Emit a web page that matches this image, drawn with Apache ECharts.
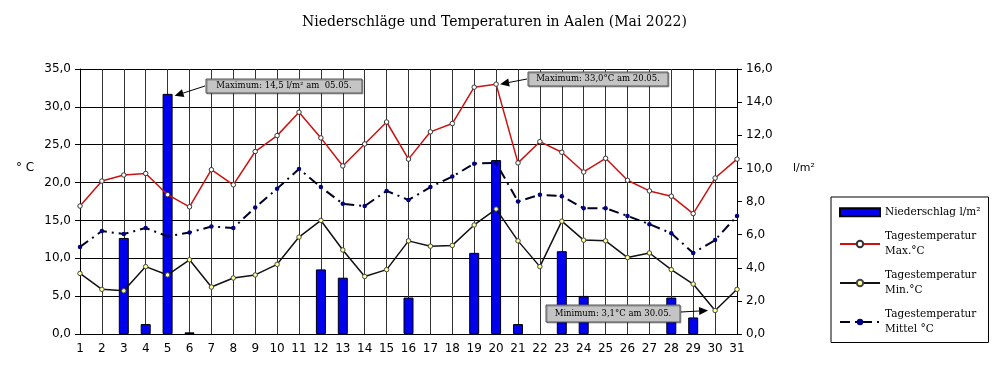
<!DOCTYPE html>
<html>
<head>
<meta charset="utf-8">
<script src="https://cdn.jsdelivr.net/npm/echarts@6/dist/echarts.min.js"></script>
<style>
  html, body { margin: 0; padding: 0; background: #fff; }
  #chart { width: 1000px; height: 376px; }
</style>
</head>
<body>
<div id="chart"></div>
<script>
// Tage im Mai 2022
const days = ['1','2','3','4','5','6','7','8','9','10','11','12','13','14','15','16',
  '17','18','19','20','21','22','23','24','25','26','27','28','29','30','31'];
// Niederschlag l/m²
const rain = [0, 0, 5.8, 0.6, 14.5, 0.1, 0, 0, 0, 0, 0, 3.9, 3.4, 0, 0, 2.2,
  0, 0, 4.9, 10.5, 0.6, 0, 5.0, 2.3, 0, 0, 0, 2.2, 1.0, 0, 0];
// Tagestemperatur Max. °C
const tMax = [16.9, 20.2, 21.0, 21.2, 18.4, 16.8, 21.7, 19.7, 24.1, 26.2, 29.3, 25.9, 22.2, 25.1, 28.0, 23.1,
  26.7, 27.8, 32.6, 33.0, 22.6, 25.4, 24.0, 21.4, 23.2, 20.3, 18.9, 18.2, 15.9, 20.6, 23.1];
// Tagestemperatur Min. °C
const tMin = [8.0, 5.9, 5.7, 8.9, 7.8, 9.8, 6.2, 7.4, 7.8, 9.2, 12.8, 15.0, 11.1, 7.6, 8.5, 12.3,
  11.6, 11.7, 14.4, 16.5, 12.3, 8.9, 14.9, 12.4, 12.3, 10.1, 10.7, 8.5, 6.6, 3.1, 5.9];
// Tagestemperatur Mittel °C
const tMean = [11.5, 13.6, 13.2, 14.0, 12.9, 13.4, 14.2, 14.0, 16.7, 19.2, 21.8, 19.4, 17.2, 16.9, 18.9, 17.7,
  19.4, 20.8, 22.5, 22.6, 17.5, 18.4, 18.2, 16.6, 16.6, 15.6, 14.5, 13.3, 10.7, 12.4, 15.6];

const chart = echarts.init(document.getElementById('chart'));
const serif = 'DejaVu Serif';
const sans = 'DejaVu Sans';
const comma = v => v.toFixed(1).replace('.', ',');

const option = {
  animation: false,
  title: {
    text: 'Niederschläge und Temperaturen in Aalen (Mai 2022)',
    left: 297, top: 10,
    textStyle: { fontFamily: serif, fontSize: 14, fontWeight: 'normal', color: '#000' }
  },
  grid: { left: 80, right: 263, top: 69, bottom: 42 },
  legend: {
    orient: 'vertical',
    left: 831, top: 197,
    padding: [8, 8, 6, 8],
    itemWidth: 40, itemHeight: 8, itemGap: 10,
    borderColor: '#000', borderWidth: 1,
    textStyle: { fontFamily: serif, fontSize: 10.5, color: '#000', lineHeight: 14.5 },
    data: [
      { name: 'Niederschlag l/m²', icon: 'rect' },
      'Tagestemperatur\nMax.°C',
      'Tagestemperatur\nMin.°C',
      'Tagestemperatur\nMittel °C'
    ]
  },
  xAxis: {
    type: 'category',
    data: days,
    boundaryGap: false,
    axisLine: { lineStyle: { color: '#000', width: 1 } },
    axisTick: { show: false },
    axisLabel: { fontFamily: sans, fontSize: 12, color: '#000', margin: 9 },
    splitLine: { show: true, lineStyle: { color: '#333', width: 1 } }
  },
  yAxis: [
    {
      type: 'value', min: 0, max: 35, interval: 5,
      axisLine: { show: true, lineStyle: { color: '#000' } },
      axisTick: { show: true, length: 5, lineStyle: { color: '#000' } },
      axisLabel: { fontFamily: sans, fontSize: 12, color: '#000', margin: 9, formatter: comma },
      splitLine: { show: true, lineStyle: { color: '#000', width: 1 } }
    },
    {
      type: 'value', min: 0, max: 16, interval: 2,
      axisLine: { show: true, lineStyle: { color: '#000' } },
      axisTick: { show: true, length: 5, lineStyle: { color: '#000' } },
      axisLabel: { fontFamily: sans, fontSize: 12, color: '#000', margin: 9, formatter: comma },
      splitLine: { show: false }
    }
  ],
  series: [
    {
      name: 'Niederschlag l/m²',
      type: 'bar',
      yAxisIndex: 1,
      barWidth: 10,
      itemStyle: { color: '#0000ee', borderColor: '#000', borderWidth: 1 },
      // Tage ohne Niederschlag nicht zeichnen
      data: rain.map(v => (v === 0 ? '-' : v)),
      z: 2
    },
    {
      name: 'Tagestemperatur\nMax.°C',
      type: 'line',
      data: tMax,
      symbol: 'circle', symbolSize: 4.5,
      lineStyle: { color: '#cc1111', width: 1.5 },
      itemStyle: { color: '#ffffff', borderColor: '#333', borderWidth: 1 },
      z: 3
    },
    {
      name: 'Tagestemperatur\nMin.°C',
      type: 'line',
      data: tMin,
      symbol: 'circle', symbolSize: 4.5,
      lineStyle: { color: '#111', width: 1.5 },
      itemStyle: { color: '#ffff99', borderColor: '#444', borderWidth: 1 },
      z: 3
    },
    {
      name: 'Tagestemperatur\nMittel °C',
      type: 'line',
      data: tMean,
      symbol: 'circle', symbolSize: 4.5,
      lineStyle: { color: '#000022', width: 2, type: [10, 5, 2, 5] },
      itemStyle: { color: '#000080', borderColor: '#000080', borderWidth: 0 },
      z: 3
    }
  ]
};
chart.setOption(option);

// Hinweisboxen mit Pfeilen
function arrow(x1, y1, x2, y2) {
  const a = Math.atan2(y2 - y1, x2 - x1);
  const l = 9, w = 4;
  const bx = x2 - l * Math.cos(a), by = y2 - l * Math.sin(a);
  return [
    { type: 'line', shape: { x1: x1, y1: y1, x2: bx, y2: by }, style: { stroke: '#000', lineWidth: 1 }, z: 10 },
    { type: 'polygon', shape: { points: [[x2, y2],
        [bx + w * Math.sin(a), by - w * Math.cos(a)],
        [bx - w * Math.sin(a), by + w * Math.cos(a)]] }, style: { fill: '#000' }, z: 10 }
  ];
}
function box(x, y, w, h, text) {
  return [
    { type: 'rect', shape: { x: x, y: y, width: w, height: h },
      style: { fill: '#c4c4c4', stroke: '#555', lineWidth: 1, shadowColor: 'rgba(0,0,0,0.3)', shadowOffsetX: 1, shadowOffsetY: 1 }, z: 10 },
    { type: 'text', x: x + w / 2, y: y + h / 2,
      style: { text: text, fontFamily: serif, fontSize: 8.5, fill: '#000', align: 'center', verticalAlign: 'middle' }, z: 11 }
  ];
}
const pRain = chart.convertToPixel({ seriesIndex: 0 }, [4, rain[4]]);
const pMax = chart.convertToPixel({ seriesIndex: 1 }, [19, tMax[19]]);
const pMin = chart.convertToPixel({ seriesIndex: 2 }, [29, tMin[29]]);

chart.setOption({
  graphic: [].concat(
    box(206, 79, 156, 14, 'Maximum: 14,5 l/m² am  05.05.'),
    arrow(205, 86, pRain[0] + 7, pRain[1] + 2),
    box(528, 72, 140, 14, 'Maximum: 33,0°C am 20.05.'),
    arrow(527, 79, pMax[0] + 4, pMax[1]),
    box(546, 305, 134, 17, 'Minimum: 3,1°C am 30.05.'),
    arrow(681, 312, pMin[0] - 7, pMin[1]),
    [
      { type: 'text', x: 16, y: 168, style: { text: '° C', fontFamily: sans, fontSize: 12, fill: '#000', verticalAlign: 'middle' } },
      { type: 'text', x: 793, y: 168, style: { text: 'l/m²', fontFamily: sans, fontSize: 11, fill: '#000', verticalAlign: 'middle' } }
    ]
  )
});
</script>
</body>
</html>
